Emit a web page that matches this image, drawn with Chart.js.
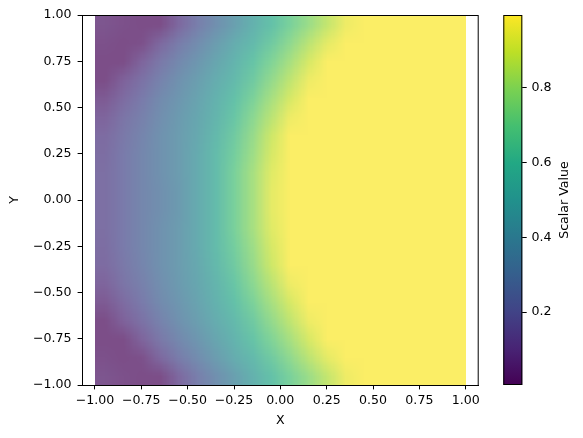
<!DOCTYPE html>
<html>
<head>
<meta charset="utf-8">
<script src="https://cdn.jsdelivr.net/npm/chart.js@4.4.0/dist/chart.umd.min.js"></script>
<style>
  html, body { margin: 0; padding: 0; background: #fff; }
</style>
</head>
<body>
<canvas id="heatChart" width="583" height="438"></canvas>
<script>
// cell centres of the grid (x left->right, y top->bottom)
const xCells = [-0.95, -0.85, -0.75, -0.65, -0.55, -0.45, -0.35, -0.25, -0.15, -0.05,
                 0.05,  0.15,  0.25,  0.35,  0.45,  0.55,  0.65,  0.75,  0.85,  0.95];
const yCells = [0.95, 0.85, 0.75, 0.65, 0.55, 0.45, 0.35, 0.25, 0.15, 0.05,
               -0.05, -0.15, -0.25, -0.35, -0.45, -0.55, -0.65, -0.75, -0.85, -0.95];

// scalar value per cell, one row per yCells entry
const scalarGrid = [
  [0.04, 0.02, 0.01, 0.01, 0.12, 0.22, 0.31, 0.40, 0.50, 0.59, 0.69, 0.78, 0.87, 0.96, 0.99, 0.99, 0.99, 0.99, 0.99, 0.99],
  [0.02, 0.01, 0.02, 0.12, 0.21, 0.29, 0.38, 0.47, 0.55, 0.65, 0.75, 0.85, 0.94, 0.99, 0.99, 0.99, 0.99, 0.99, 0.99, 0.99],
  [0.01, 0.01, 0.10, 0.19, 0.27, 0.35, 0.43, 0.51, 0.61, 0.71, 0.81, 0.91, 0.99, 0.99, 0.99, 0.99, 0.99, 0.99, 0.99, 0.99],
  [0.01, 0.09, 0.16, 0.24, 0.32, 0.39, 0.47, 0.55, 0.65, 0.76, 0.86, 0.96, 0.99, 0.99, 0.99, 0.99, 0.99, 0.99, 0.99, 0.99],
  [0.06, 0.13, 0.20, 0.28, 0.35, 0.42, 0.50, 0.59, 0.70, 0.81, 0.91, 0.99, 0.99, 0.99, 0.99, 0.99, 0.99, 0.99, 0.99, 0.99],
  [0.10, 0.17, 0.23, 0.30, 0.37, 0.44, 0.52, 0.62, 0.74, 0.85, 0.96, 0.99, 0.99, 0.99, 0.99, 0.99, 0.99, 0.99, 0.99, 0.99],
  [0.13, 0.19, 0.25, 0.32, 0.38, 0.45, 0.54, 0.65, 0.77, 0.89, 0.99, 0.99, 0.99, 0.99, 0.99, 0.99, 0.99, 0.99, 0.99, 0.99],
  [0.14, 0.20, 0.26, 0.32, 0.38, 0.46, 0.56, 0.67, 0.79, 0.91, 0.99, 0.99, 0.99, 0.99, 0.99, 0.99, 0.99, 0.99, 0.99, 0.99],
  [0.15, 0.20, 0.26, 0.32, 0.38, 0.46, 0.56, 0.69, 0.81, 0.93, 0.99, 0.99, 0.99, 0.99, 0.99, 0.99, 0.99, 0.99, 0.99, 0.99],
  [0.15, 0.20, 0.26, 0.31, 0.37, 0.46, 0.56, 0.69, 0.81, 0.94, 0.99, 0.99, 0.99, 0.99, 0.99, 0.99, 0.99, 0.99, 0.99, 0.99],
  [0.15, 0.20, 0.26, 0.31, 0.37, 0.46, 0.56, 0.69, 0.81, 0.94, 0.99, 0.99, 0.99, 0.99, 0.99, 0.99, 0.99, 0.99, 0.99, 0.99],
  [0.15, 0.20, 0.26, 0.32, 0.38, 0.46, 0.56, 0.69, 0.81, 0.93, 0.99, 0.99, 0.99, 0.99, 0.99, 0.99, 0.99, 0.99, 0.99, 0.99],
  [0.14, 0.20, 0.26, 0.32, 0.38, 0.46, 0.56, 0.67, 0.79, 0.91, 0.99, 0.99, 0.99, 0.99, 0.99, 0.99, 0.99, 0.99, 0.99, 0.99],
  [0.13, 0.19, 0.25, 0.32, 0.38, 0.45, 0.54, 0.65, 0.77, 0.89, 0.99, 0.99, 0.99, 0.99, 0.99, 0.99, 0.99, 0.99, 0.99, 0.99],
  [0.10, 0.17, 0.23, 0.30, 0.37, 0.44, 0.52, 0.62, 0.74, 0.85, 0.96, 0.99, 0.99, 0.99, 0.99, 0.99, 0.99, 0.99, 0.99, 0.99],
  [0.06, 0.13, 0.20, 0.28, 0.35, 0.42, 0.50, 0.59, 0.70, 0.81, 0.91, 0.99, 0.99, 0.99, 0.99, 0.99, 0.99, 0.99, 0.99, 0.99],
  [0.01, 0.09, 0.16, 0.24, 0.32, 0.39, 0.47, 0.55, 0.65, 0.76, 0.86, 0.96, 0.99, 0.99, 0.99, 0.99, 0.99, 0.99, 0.99, 0.99],
  [0.01, 0.01, 0.10, 0.19, 0.27, 0.35, 0.43, 0.51, 0.61, 0.71, 0.81, 0.91, 0.99, 0.99, 0.99, 0.99, 0.99, 0.99, 0.99, 0.99],
  [0.02, 0.01, 0.02, 0.12, 0.21, 0.29, 0.38, 0.47, 0.55, 0.65, 0.75, 0.85, 0.94, 0.99, 0.99, 0.99, 0.99, 0.99, 0.99, 0.99],
  [0.04, 0.02, 0.01, 0.01, 0.12, 0.22, 0.31, 0.40, 0.50, 0.59, 0.69, 0.78, 0.87, 0.96, 0.99, 0.99, 0.99, 0.99, 0.99, 0.99]
];

const xTicks = [-1, -0.75, -0.5, -0.25, 0, 0.25, 0.5, 0.75, 1];
const yTicks = [-1, -0.75, -0.5, -0.25, 0, 0.25, 0.5, 0.75, 1];
const cbTicks = [0.2, 0.4, 0.6, 0.8];
const vMin = 0.005, vMax = 0.995;

const viridis = ['#440154', '#482475', '#414487', '#355f8d', '#2a788e', '#21918c',
                 '#22a884', '#44bf70', '#7ad151', '#bddf26', '#fde725'];
const viridisRgb = viridis.map(h => [1, 3, 5].map(k => parseInt(h.slice(k, k + 2), 16)));

function viridisAt(t) {
  t = Math.max(0, Math.min(1, t));
  const p = t * 10;
  const i = Math.min(9, Math.floor(p));
  const f = p - i;
  const a = viridisRgb[i], b = viridisRgb[i + 1];
  return a.map((c, k) => c + (b[k] - c) * f);
}

const fontMain = { family: 'DejaVu Sans', size: 12.6 };
const minus = v => (v < 0 ? '\u2212' : '') + Math.abs(v).toFixed(2);

const heatmapPlugin = {
  id: 'heatmap',
  afterLayout(chart) {
    // colorbar axis sits to the right of the bar, not against the plot
    const cb = chart.scales.cb;
    cb.left = chart.chartArea.right + 43.6;
    cb.right = chart.width;
  },
  beforeDatasetsDraw(chart) {
    const { ctx, scales: { x, y } } = chart;
    const nx = xCells.length, ny = yCells.length;
    const off = document.createElement('canvas');
    off.width = nx; off.height = ny;
    const octx = off.getContext('2d');
    const img = octx.createImageData(nx, ny);
    for (let j = 0; j < ny; j++) {
      for (let i = 0; i < nx; i++) {
        const c = viridisAt((scalarGrid[j][i] - vMin) / (vMax - vMin));
        const o = (j * nx + i) * 4;
        // alpha 0.7 over white
        img.data[o] = c[0] * 0.7 + 255 * 0.3;
        img.data[o + 1] = c[1] * 0.7 + 255 * 0.3;
        img.data[o + 2] = c[2] * 0.7 + 255 * 0.3;
        img.data[o + 3] = 255;
      }
    }
    octx.putImageData(img, 0, 0);
    const hx = (xCells[1] - xCells[0]) / 2;
    const hy = (yCells[0] - yCells[1]) / 2;
    const left = x.getPixelForValue(xCells[0] - hx);
    const right = x.getPixelForValue(xCells[nx - 1] + hx);
    const top = y.getPixelForValue(yCells[0] + hy);
    const bottom = y.getPixelForValue(yCells[ny - 1] - hy);
    ctx.save();
    ctx.imageSmoothingEnabled = true;
    ctx.drawImage(off, left, top, right - left, bottom - top);
    ctx.restore();
  },
  afterDraw(chart) {
    const { ctx, chartArea: a, scales: { cb } } = chart;
    ctx.save();
    ctx.strokeStyle = '#000';
    ctx.lineWidth = 1;
    ctx.strokeRect(a.left + 0.5, a.top + 0.5, a.right - a.left - 1, a.bottom - a.top);

    // colorbar
    const barR = cb.left, barL = cb.left - 19;
    const top = cb.getPixelForValue(vMax), bottom = cb.getPixelForValue(vMin);
    const g = ctx.createLinearGradient(0, bottom, 0, top);
    viridis.forEach((c, i) => g.addColorStop(i / 10, c));
    ctx.fillStyle = g;
    ctx.fillRect(barL, top, barR - barL, bottom - top);
    ctx.strokeRect(barL + 0.5, top + 0.5, barR - barL - 1, bottom - top - 1);

    ctx.fillStyle = '#000';
    ctx.font = '12.6px "DejaVu Sans"';
    ctx.textAlign = 'center';
    ctx.textBaseline = 'middle';
    ctx.translate(cb.left + 42.7, (top + bottom) / 2);
    ctx.rotate(-Math.PI / 2);
    ctx.fillText('Scalar Value', 0, 0);
    ctx.restore();
  }
};

const tickGrid = { drawOnChartArea: false, drawTicks: true, tickLength: 4.4, color: '#000' };

new Chart(document.getElementById('heatChart'), {
  type: 'scatter',
  data: {
    datasets: [{
      label: 'cells',
      data: yCells.flatMap(yv => xCells.map(xv => ({ x: xv, y: yv }))),
      pointRadius: 0
    }]
  },
  options: {
    responsive: false,
    animation: false,
    devicePixelRatio: 1,
    layout: { padding: { top: 15, left: 0, right: 0, bottom: 0 } },
    plugins: { legend: { display: false }, tooltip: { enabled: false } },
    scales: {
      x: {
        type: 'linear', position: 'bottom', min: -1.07, max: 1.07,
        afterBuildTicks: s => { s.ticks = xTicks.map(v => ({ value: v })); },
        afterFit: s => { s.height = 53; },
        ticks: { padding: 4.2, autoSkip: false, maxRotation: 0, color: '#000', font: fontMain, callback: v => minus(v) },
        grid: tickGrid,
        border: { display: true, color: '#000' },
        title: { display: true, text: 'X', color: '#000', font: fontMain, padding: { top: 0, bottom: 9.7 } }
      },
      y: {
        type: 'linear', position: 'left', min: -1, max: 1,
        afterBuildTicks: s => { s.ticks = yTicks.map(v => ({ value: v })); },
        afterFit: s => { s.width = 82; },
        ticks: { padding: 6, autoSkip: false, color: '#000', font: fontMain, callback: v => minus(v) },
        grid: tickGrid,
        border: { display: true, color: '#000' },
        title: { display: true, text: 'Y', color: '#000', font: fontMain, padding: { top: 7.4, bottom: 0 } }
      },
      cb: {
        type: 'linear', position: 'right', min: vMin, max: vMax,
        afterBuildTicks: s => { s.ticks = cbTicks.map(v => ({ value: v })); },
        afterFit: s => { s.width = 104.3; },
        ticks: { padding: 4.8, autoSkip: false, color: '#000', font: fontMain, callback: v => v.toFixed(1) },
        grid: tickGrid,
        border: { display: false }
      }
    }
  },
  plugins: [heatmapPlugin]
});
</script>
</body>
</html>
